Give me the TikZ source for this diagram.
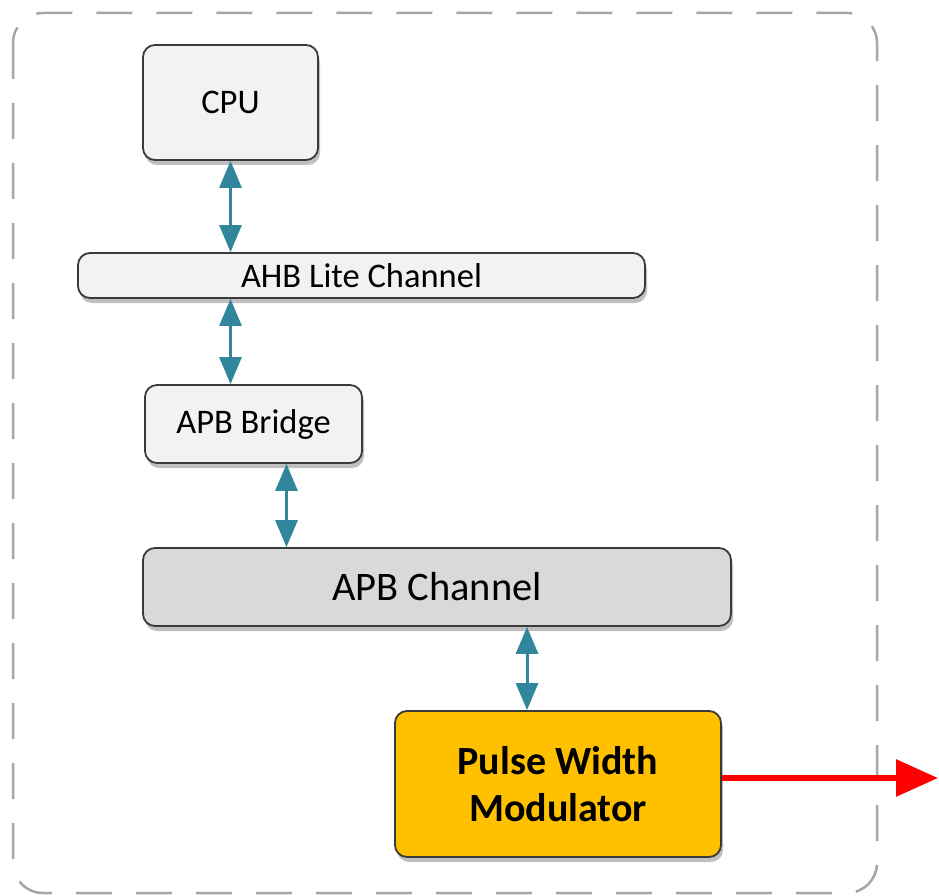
\documentclass[tikz,border=0pt]{standalone}
\usepackage{fontspec}
\setmainfont{Carlito}
\usepackage{tikz}
\usetikzlibrary{arrows.meta,shadows}
\definecolor{boxgray}{HTML}{F2F2F2}
\definecolor{chgray}{HTML}{D9D9D9}
\definecolor{pwmgold}{HTML}{FFC000}
\definecolor{busteal}{HTML}{31869B}
\definecolor{edgegray}{HTML}{3A3A3A}

\begin{document}
\begin{tikzpicture}[
  x=1pt, y=-1pt,
  blk/.style={
    draw=edgegray, line width=1.8pt, rounded corners=12pt,
    fill=boxgray, inner sep=0pt,
    font=\fontsize{34.5}{38}\selectfont,
    drop shadow={shadow xshift=2pt, shadow yshift=-5pt,
      fill=black, opacity=0.25}
  },
  bus/.style={
    {Triangle[width=22pt,length=27pt]}-{Triangle[width=22pt,length=27pt]},
    draw=busteal, line width=3pt
  }
]
  \useasboundingbox (0,0) rectangle (939,896);
  \draw[gray!70, line width=2.5pt, dash pattern=on 36pt off 24pt,
    rounded corners=30pt] (13,13) rectangle (877,893);
  \node[blk, minimum width=175pt, minimum height=115pt] (cpu) at (230.5,102.5) {CPU};
  \node[blk, minimum width=567pt, minimum height=45pt] (ahb) at (361.5,275.5) {AHB Lite Channel};
  \node[blk, minimum width=217pt, minimum height=78pt] (bridge) at (253.5,424) {APB Bridge};
  \node[blk, fill=chgray, minimum width=588pt, minimum height=78pt,
    font=\fontsize{40.5}{44}\selectfont] (apb) at (437,587) {APB Channel};
  \node[blk, fill=pwmgold, minimum width=326pt, minimum height=146pt,
    align=center, font=\fontsize{40}{47}\selectfont\bfseries] (pwm) at (558,784)
    {Pulse Width\\Modulator};
  \coordinate (pwmout) at (938,778);
  \draw[bus] (cpu.south) -- (cpu.south |- ahb.north);
  \draw[bus] (ahb.south -| cpu.south) -- (bridge.north -| cpu.south);
  \draw[bus] ([xshift=33pt]bridge.south) -- ([xshift=33pt]bridge.south |- apb.north);
  \draw[bus] ([xshift=-31pt]pwm.north |- apb.south) -- ([xshift=-31pt]pwm.north);
  \draw[-{Triangle[width=36pt,length=42pt]}, red, line width=6pt] (pwm.east |- pwmout) -- (pwmout);
\end{tikzpicture}
\end{document}
